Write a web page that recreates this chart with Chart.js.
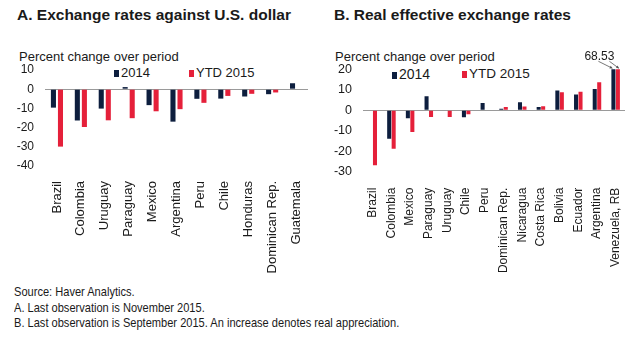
<!DOCTYPE html>
<html>
<head>
<meta charset="utf-8">
<script src="https://cdn.jsdelivr.net/npm/chart.js@4/dist/chart.umd.min.js"></script>
<style>
  body { margin: 0; width: 640px; height: 346px; background: #fff; position: relative; overflow: hidden;
         font-family: "Liberation Sans", Arial, sans-serif; color: #1a1a1a; }
  .abs { position: absolute; white-space: nowrap; }
  .title { font-weight: bold; font-size: 15.5px; top: 6px; }
  .unit { font-size: 13px; top: 49px; }
  .leg { font-size: 13px; }
  .leg i { display: inline-block; width: 5px; height: 7px; margin-right: 2px; vertical-align: 0px; }
  .note { font-size: 13.5px; left: 14px; transform: scaleX(0.82); transform-origin: 0 0; }
  canvas { position: absolute; }
</style>
</head>
<body>
<div class="abs title" style="left:17px">A. Exchange rates against U.S. dollar</div>
<div class="abs title" style="left:334px">B. Real effective exchange rates</div>
<div class="abs unit" style="left:19px">Percent change over period</div>
<div class="abs unit" style="left:335px">Percent change over period</div>

<div class="abs leg" style="left:114px;top:65px"><i style="background:#0d1e3e"></i>2014</div>
<div class="abs leg" style="left:189px;top:65px"><i style="background:#e5203a"></i>YTD 2015</div>
<div class="abs leg" style="left:392px;top:66px;font-size:14px"><i style="background:#0d1e3e"></i>2014</div>
<div class="abs leg" style="left:462px;top:66px;font-size:13.5px"><i style="background:#e5203a"></i>YTD 2015</div>

<canvas id="ratesChart" style="left:0;top:50px" width="320" height="230"></canvas>
<canvas id="reerChart" style="left:320px;top:50px" width="320" height="230"></canvas>

<div class="abs note" style="top:284px">Source: Haver Analytics.</div>
<div class="abs note" style="top:300px">A. Last observation is November 2015.</div>
<div class="abs note" style="top:315px">B. Last observation is September 2015. An increase denotes real appreciation.</div>

<script>
// Panel A: exchange rates against the U.S. dollar
var ratesLabels = ["Brazil", "Colombia", "Uruguay", "Paraguay", "Mexico", "Argentina",
                   "Peru", "Chile", "Honduras", "Dominican Rep.", "Guatemala"];
var rates2014 = [-9.6, -16.3, -10.1, 1.1, -8.3, -16.9, -5.0, -4.9, -3.8, -2.6, 3.1];
var ratesYtd2015 = [-29.9, -19.7, -16.2, -15.1, -11.5, -10.4, -7.1, -3.5, -2.4, -1.7, 0];
var ratesTicks = [10, 0, -10, -20, -30, -40];

// Panel B: real effective exchange rates
var reerLabels = ["Brazil", "Colombia", "Mexico", "Paraguay", "Uruguay", "Chile", "Peru",
                  "Dominican Rep.", "Nicaragua", "Costa Rica", "Bolivia", "Ecuador",
                  "Argentina", "Venezuela, RB"];
var reer2014 = [0.3, -13.9, -3.9, 6.9, 0, -3.4, 3.6, 0.7, 3.9, 1.6, 9.6, 7.7, 10.4, 40];
var reerYtd2015 = [-26.9, -18.8, -10.6, -3.3, -3.3, -2.0, 0, 1.6, 1.8, 2.0, 8.8, 9.0, 13.7, 68.53];
var reerTicks = [20, 10, 0, -10, -20, -30];

var navy = "#0d1e3e";
var red = "#e5203a";
var textColor = "#1a1a1a";
var fontFamily = "'Liberation Sans', Arial, sans-serif";

function makeChart(id, labels, a, b, ticks, opt) {
    var ctx = document.getElementById(id).getContext("2d");
    return new Chart(ctx, {
        type: "bar",
        data: {
            labels: labels,
            datasets: [{
                label: "2014",
                data: a,
                backgroundColor: navy,
                categoryPercentage: opt.catPct,
                barPercentage: opt.barPct
            }, {
                label: "YTD 2015",
                data: b,
                backgroundColor: red,
                categoryPercentage: opt.catPct,
                barPercentage: opt.barPct
            }]
        },
        options: {
            responsive: false,
            animation: false,
            layout: { padding: { top: opt.top, right: opt.right, left: 0, bottom: 0 } },
            plugins: { legend: { display: false }, tooltip: { enabled: false } },
            scales: {
                x: {
                    grid: { display: false },
                    border: { display: false },
                    ticks: {
                        color: textColor,
                        font: { family: fontFamily, size: opt.xFont },
                        minRotation: 90,
                        maxRotation: 90,
                        autoSkip: false,
                        padding: opt.xPad
                    },
                    afterFit: function (scale) { scale.height = opt.xHeight; }
                },
                y: {
                    min: ticks[ticks.length - 1],
                    max: ticks[0],
                    afterBuildTicks: function (scale) {
                        scale.ticks = ticks.map(function (v) { return { value: v }; });
                    },
                    grid: {
                        drawTicks: false,
                        lineWidth: 1,
                        color: function (c) { return c.tick && c.tick.value === 0 ? "#9a9a9a" : "rgba(0,0,0,0)"; }
                    },
                    border: { display: false },
                    ticks: {
                        color: textColor,
                        font: { family: fontFamily, size: opt.yFont },
                        padding: opt.yPad
                    },
                    afterFit: function (scale) { scale.width = opt.yWidth; }
                }
            }
        },
        plugins: opt.plugins || []
    });
}

// off-scale value note for Venezuela
var offScaleNote = {
    id: "offScaleNote",
    afterDatasetsDraw: function (chart) {
        var idx = reerLabels.length - 1;
        var barA = chart.getDatasetMeta(0).data[idx];
        var barB = chart.getDatasetMeta(1).data[idx];
        var top = chart.chartArea.top;
        var c = chart.ctx;
        c.save();
        c.fillStyle = textColor;
        c.font = "12px " + fontFamily;
        c.textAlign = "center";
        c.textBaseline = "middle";
        var tx = barA.x - 14;
        c.fillText(String(reerYtd2015[idx]), tx, top - 13);
        c.strokeStyle = "#555";
        c.lineWidth = 0.8;
        [[tx - 1, barA.x - 1], [tx + 10, barB.x + 1]].forEach(function (p) {
            var x0 = p[0], y0 = top - 8, x1 = p[1], y1 = top - 1;
            c.beginPath();
            c.moveTo(x0, y0);
            c.lineTo(x1, y1);
            c.stroke();
            var ang = Math.atan2(y1 - y0, x1 - x0);
            c.beginPath();
            c.moveTo(x1, y1);
            c.lineTo(x1 - 3 * Math.cos(ang - 0.5), y1 - 3 * Math.sin(ang - 0.5));
            c.lineTo(x1 - 3 * Math.cos(ang + 0.5), y1 - 3 * Math.sin(ang + 0.5));
            c.closePath();
            c.fillStyle = "#555";
            c.fill();
        });
        c.restore();
    }
};

makeChart("ratesChart", ratesLabels, rates2014, ratesYtd2015, ratesTicks, {
    catPct: 0.59, barPct: 0.72, top: 20, right: 12,
    xHeight: 114, xFont: 13, xPad: 7,
    yWidth: 45, yFont: 12, yPad: 11
});

makeChart("reerChart", reerLabels, reer2014, reerYtd2015, reerTicks, {
    catPct: 0.48, barPct: 0.9, top: 19.3, right: 15,
    xHeight: 108.3, xFont: 12, xPad: 8,
    yWidth: 43.4, yFont: 12.5, yPad: 11.4,
    plugins: [offScaleNote]
});
</script>
</body>
</html>
